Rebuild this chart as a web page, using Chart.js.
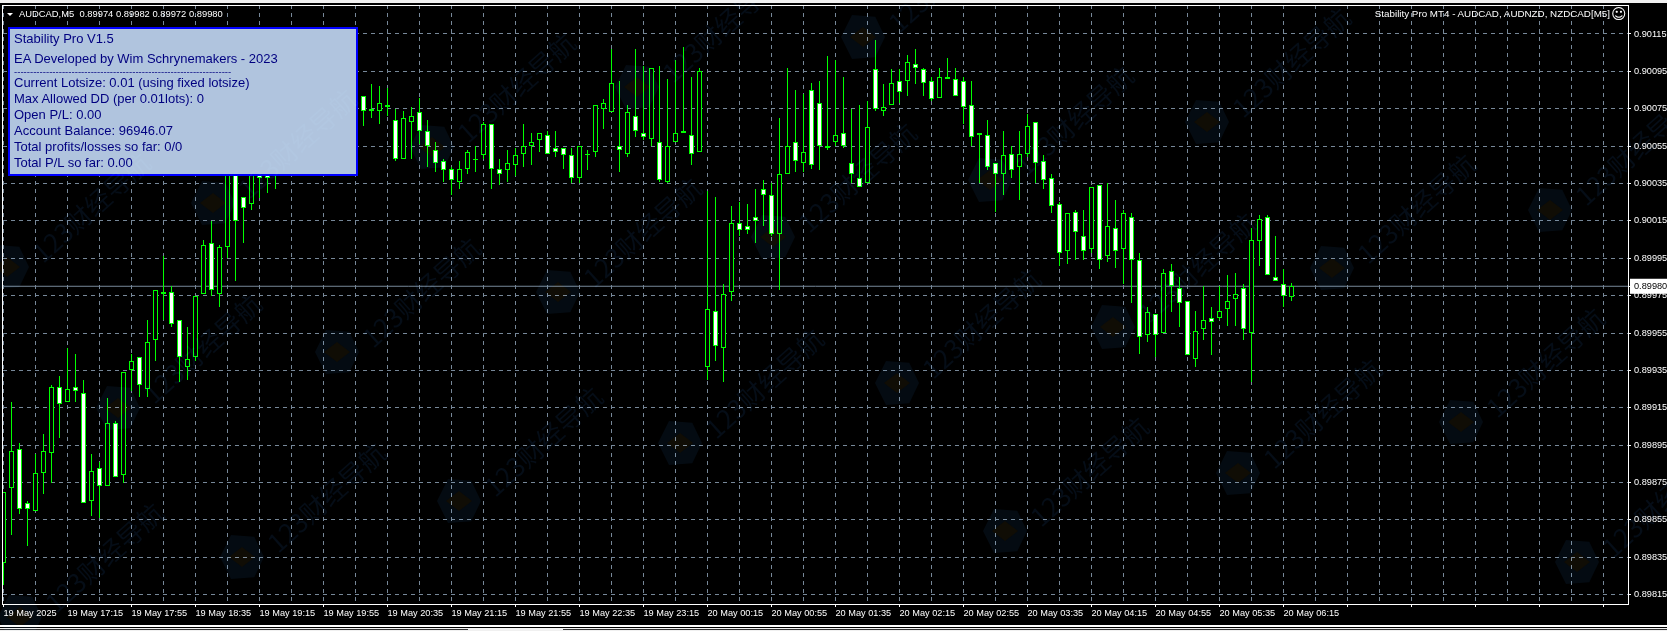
<!DOCTYPE html>
<html>
<head>
<meta charset="utf-8">
<script src="https://cdn.jsdelivr.net/npm/chart.js@4"></script>
<style>
html,body{margin:0;padding:0;background:#000;width:1667px;height:631px;overflow:hidden}
#wrap{position:relative;width:1667px;height:631px;overflow:hidden;background:#000;font-family:"Liberation Sans",Arial,sans-serif}
canvas{position:absolute;left:0;top:0}
.abs{position:absolute;white-space:pre}
#frame{position:absolute;left:2px;top:5px;width:1625px;height:598px;border:1px solid #fff}
#panel{position:absolute;left:8px;top:27px;width:346px;height:145px;border:2px solid #0000ff;background:#b0c4de;color:#000080;font-size:13px}
#panel div{position:absolute;left:4px;line-height:16px;white-space:pre}
#marks{position:absolute;left:0;top:0;width:1667px;height:631px;mix-blend-mode:screen;pointer-events:none;overflow:hidden}
.wm{position:absolute;font:26px "Noto Sans CJK SC";color:#050d17;transform-origin:left center;transform:rotate(-42deg);white-space:nowrap;line-height:30px}
.hex{position:absolute;width:44px;height:44px;background:#040b12;clip-path:polygon(25% 0,78% 4%,100% 50%,78% 96%,25% 100%,0 50%)}
.hex i{position:absolute;left:9px;top:12px;width:26px;height:20px;background:#100d05;clip-path:polygon(50% 0,100% 50%,50% 100%,0 50%)}
</style>
</head>
<body>
<div id="wrap">
<canvas id="c" width="1667" height="631"></canvas>
<div id="frame"></div>
<div class="abs" style="left:0;top:0;width:1667px;height:3px;background:#f0f0f0"></div>
<div class="abs" style="left:0;top:625px;width:1667px;height:2px;background:#fff"></div>
<div class="abs" style="left:0;top:628px;width:1667px;height:3px;background:#f0f0f0"></div>
<div class="abs" style="left:0;top:629px;width:468px;height:1px;background:#333"></div>
<div class="abs" style="left:563px;top:629px;width:1104px;height:1px;background:#333"></div>
<div class="abs" style="left:7px;top:13px;width:0;height:0;border-left:3px solid transparent;border-right:3px solid transparent;border-top:3px solid #fff"></div>
<div class="abs" id="hdr" style="left:19px;top:6px;font-size:9.4px;line-height:15px;color:#fff">AUDCAD,M5  0.89974 0.89982 0.89972 0.89980</div>
<div class="abs" id="rt" style="right:57px;top:6px;font-size:9.8px;line-height:15px;color:#fff">Stability Pro MT4 - AUDCAD, AUDNZD, NZDCAD[M5]</div>
<div class="abs" style="left:1611px;top:5px;font:15px 'DejaVu Sans';line-height:18px;color:#fff">&#9786;</div>
<div id="panel">
<div style="top:2px">Stability Pro V1.5</div>
<div style="top:22px">EA Developed by Wim Schrynemakers - 2023</div>
<div style="top:35px;font-size:9.6px">--------------------------------------------------------------------</div>
<div style="top:46px">Current Lotsize: 0.01 (using fixed lotsize)</div>
<div style="top:62px">Max Allowed DD (per 0.01lots): 0</div>
<div style="top:78px">Open P/L: 0.00</div>
<div style="top:94px">Account Balance: 96946.07</div>
<div style="top:110px">Total profits/losses so far: 0/0</div>
<div style="top:126px">Total P/L so far: 0.00</div>
</div>
<div id="marks"></div>
</div>
<script>
const opens=[0.89832,0.89872,0.89893,0.89864,0.89860,0.89880,0.89891,0.89926,0.89918,0.89926,
0.89923,0.89865,0.89883,0.89873,0.89907,0.89879,0.89935,0.89942,0.89925,0.89951,
0.89977,0.89977,0.89962,0.89937,0.89942,0.89976,0.90003,0.89976,0.90001,0.90045,
0.90028,0.90024,0.90052,0.90046,0.90040,0.90050,0.90055,0.90061,0.90058,0.90066,
0.90063,0.90070,0.90076,0.90072,0.90079,0.90082,0.90075,0.90074,0.90077,0.90069,
0.90048,0.90068,0.90073,0.90063,0.90053,0.90047,0.90043,0.90036,0.90043,0.90048,
0.90050,0.90067,0.90043,0.90042,0.90045,0.90051,0.90055,0.90058,0.90061,0.90054,
0.90054,0.90050,0.90038,0.90051,0.90052,0.90075,0.90073,0.90055,0.90051,0.90071,
0.90062,0.90059,0.90057,0.90036,0.90057,0.90063,0.90061,0.90052,0.89937,0.89967,
0.89947,0.89977,0.90014,0.90012,0.90017,0.90032,0.90029,0.90008,0.90040,0.90057,
0.90046,0.90085,0.90078,0.90054,0.90057,0.90062,0.90046,0.90038,0.90035,0.90096,
0.90074,0.90077,0.90090,0.90090,0.90099,0.90096,0.90090,0.90081,0.90091,0.90091,
0.90090,0.90077,0.90061,0.90061,0.90046,0.90040,0.90051,0.90044,0.90051,0.90068,
0.90047,0.90038,0.90024,0.89999,0.90020,0.90007,0.90000,0.90034,0.89996,0.90011,
0.90000,0.90017,0.89994,0.89954,0.89965,0.89955,0.89988,0.89979,0.89972,0.89941,
0.89957,0.89963,0.89963,0.89968,0.89973,0.89979,0.89955,0.90004,0.90017,0.89985,0.89981,0.89974];
const highs=[0.89870,0.89918,0.89896,0.89865,0.89890,0.89901,0.89927,0.89932,0.89947,0.89944,
0.89930,0.89890,0.89886,0.89920,0.89908,0.89934,0.89944,0.89942,0.89962,0.89978,
0.89996,0.89980,0.89962,0.89958,0.89975,0.90005,0.90015,0.90002,0.90052,0.90050,
0.90028,0.90056,0.90058,0.90052,0.90055,0.90058,0.90064,0.90068,0.90070,0.90075,
0.90074,0.90082,0.90084,0.90083,0.90088,0.90082,0.90088,0.90087,0.90086,0.90075,
0.90074,0.90076,0.90081,0.90069,0.90057,0.90048,0.90044,0.90047,0.90053,0.90055,
0.90068,0.90067,0.90048,0.90053,0.90054,0.90067,0.90062,0.90062,0.90063,0.90063,
0.90054,0.90054,0.90055,0.90053,0.90077,0.90080,0.90107,0.90090,0.90077,0.90107,
0.90098,0.90097,0.90098,0.90091,0.90101,0.90108,0.90092,0.90097,0.90031,0.90028,
0.89981,0.90023,0.90025,0.90024,0.90032,0.90037,0.90035,0.90070,0.90097,0.90085,
0.90083,0.90089,0.90090,0.90103,0.90101,0.90092,0.90075,0.90077,0.90079,0.90112,
0.90088,0.90096,0.90096,0.90104,0.90107,0.90097,0.90092,0.90097,0.90102,0.90097,
0.90092,0.90090,0.90062,0.90069,0.90046,0.90063,0.90055,0.90063,0.90072,0.90068,
0.90050,0.90040,0.90025,0.90019,0.90021,0.90021,0.90033,0.90034,0.90035,0.90026,
0.90021,0.90019,0.89998,0.89969,0.89965,0.89989,0.89992,0.89985,0.89972,0.89967,
0.89980,0.89969,0.89980,0.89986,0.89987,0.89981,0.90011,0.90018,0.90018,0.90007,0.89989,0.89982];
const lows=[0.89820,0.89847,0.89858,0.89841,0.89860,0.89869,0.89875,0.89899,0.89918,0.89918,
0.89864,0.89857,0.89856,0.89873,0.89878,0.89875,0.89924,0.89921,0.89921,0.89940,
0.89962,0.89958,0.89929,0.89930,0.89940,0.89976,0.89975,0.89969,0.89995,0.89983,
0.90003,0.90021,0.90027,0.90030,0.90032,0.90043,0.90048,0.90054,0.90052,0.90060,
0.90056,0.90064,0.90068,0.90066,0.90072,0.90066,0.90070,0.90067,0.90071,0.90047,
0.90048,0.90048,0.90056,0.90044,0.90041,0.90036,0.90029,0.90032,0.90040,0.90041,
0.90048,0.90032,0.90034,0.90036,0.90039,0.90044,0.90045,0.90052,0.90051,0.90049,
0.90043,0.90035,0.90035,0.90042,0.90049,0.90064,0.90073,0.90041,0.90049,0.90060,
0.90058,0.90055,0.90036,0.90035,0.90057,0.90062,0.90045,0.90052,0.89930,0.89940,
0.89929,0.89972,0.90007,0.90008,0.90003,0.90012,0.90007,0.89978,0.90040,0.90041,
0.90041,0.90043,0.90042,0.90053,0.90055,0.90054,0.90035,0.90033,0.90035,0.90074,
0.90071,0.90077,0.90078,0.90082,0.90088,0.90082,0.90079,0.90081,0.90091,0.90082,
0.90067,0.90055,0.90035,0.90042,0.90020,0.90029,0.90038,0.90026,0.90049,0.90035,
0.90032,0.90019,0.89991,0.89992,0.89994,0.89994,0.89998,0.89989,0.89993,0.89990,
0.89981,0.89971,0.89944,0.89950,0.89942,0.89955,0.89966,0.89958,0.89943,0.89937,
0.89951,0.89943,0.89962,0.89959,0.89959,0.89951,0.89929,0.89991,0.89986,0.89983,0.89969,0.89972];
const closes=[0.89870,0.89892,0.89861,0.89861,0.89880,0.89892,0.89926,0.89917,0.89925,0.89924,
0.89864,0.89881,0.89873,0.89907,0.89878,0.89934,0.89940,0.89927,0.89950,0.89978,
0.89976,0.89960,0.89942,0.89941,0.89975,0.90002,0.89978,0.90001,0.90046,0.90015,
0.90022,0.90050,0.90038,0.90038,0.90050,0.90055,0.90061,0.90058,0.90066,0.90063,
0.90070,0.90076,0.90072,0.90079,0.90082,0.90074,0.90074,0.90078,0.90076,0.90048,
0.90070,0.90071,0.90063,0.90055,0.90046,0.90042,0.90037,0.90043,0.90052,0.90048,
0.90067,0.90043,0.90040,0.90046,0.90050,0.90055,0.90057,0.90062,0.90051,0.90052,
0.90050,0.90038,0.90055,0.90050,0.90077,0.90078,0.90089,0.90053,0.90073,0.90063,
0.90060,0.90097,0.90037,0.90055,0.90062,0.90062,0.90051,0.90095,0.89968,0.89948,
0.89976,0.90014,0.90010,0.90010,0.90015,0.90029,0.90008,0.90040,0.90055,0.90047,
0.90052,0.90045,0.90055,0.90055,0.90061,0.90055,0.90040,0.90033,0.90065,0.90075,
0.90076,0.90089,0.90084,0.90100,0.90097,0.90089,0.90080,0.90092,0.90092,0.90082,
0.90076,0.90060,0.90062,0.90044,0.90040,0.90050,0.90042,0.90051,0.90066,0.90046,
0.90037,0.90023,0.89998,0.90019,0.90009,0.89999,0.90033,0.89994,0.90012,0.89999,
0.90019,0.89994,0.89953,0.89966,0.89954,0.89987,0.89980,0.89971,0.89943,0.89956,
0.89962,0.89961,0.89967,0.89972,0.89976,0.89957,0.90005,0.90016,0.89986,0.89983,0.89975,0.89980];
const timeLabels=["19 May 2025","19 May 17:15","19 May 17:55","19 May 18:35","19 May 19:15","19 May 19:55","19 May 20:35","19 May 21:15","19 May 21:55","19 May 22:35","19 May 23:15","20 May 00:15","20 May 00:55","20 May 01:35","20 May 02:15","20 May 02:55","20 May 03:35","20 May 04:15","20 May 04:55","20 May 05:35","20 May 06:15"];
const priceTicks=[0.89815,0.89835,0.89855,0.89875,0.89895,0.89915,0.89935,0.89955,0.89975,0.89995,0.90015,0.90035,0.90055,0.90075,0.90095,0.90115];
const lastPrice=0.89980;
const barsPerGrid=4, barsPerLabel=8, gridCount=51;

const wicks=lows.map((l,i)=>({x:i,y:[l,highs[i]]}));
const bodies=opens.map((o,i)=>({x:i,y:[Math.min(o,closes[i]),Math.max(o,closes[i])]}));
const fills=opens.map((o,i)=>closes[i]>=o?'#000000':'#ffffff');
const GREEN='#00ff00', GRID='#778899';

const snap={id:'snap',afterDatasetsUpdate(chart){
  chart.getSortedVisibleDatasetMetas().forEach(m=>{
    if(m.type!=='bar')return;
    m.data.forEach(el=>{
      let a=Math.round(el.y), b=Math.round(el.base);
      if(b-a<1)b=a+1;
      el.y=a; el.base=b; el.height=b-a;
    });
  });
}};
const noPad=s=>{s.paddingLeft=0;s.paddingRight=0;s.paddingTop=0;s.paddingBottom=0;};

new Chart(document.getElementById('c'),{
  data:{datasets:[
    {type:'line',data:[{x:-1,y:lastPrice},{x:210,y:lastPrice}],borderColor:GRID,borderWidth:1,pointRadius:0,order:3},
    {type:'bar',data:wicks,backgroundColor:GREEN,borderWidth:0,barThickness:1,grouped:false,inflateAmount:0,order:2},
    {type:'bar',data:bodies,backgroundColor:fills,borderColor:GREEN,borderWidth:1,borderSkipped:false,barThickness:5,grouped:false,inflateAmount:0,order:1}
  ]},
  options:{
    responsive:false,animation:false,devicePixelRatio:1,
    layout:{padding:{left:3,top:5,right:0,bottom:0}},
    plugins:{legend:{display:false},tooltip:{enabled:false}},
    events:[],
    scales:{
      x:{type:'linear',offset:false,min:-0.0625,max:203.0625,
        afterFit(s){s.height=27;noPad(s);},
        afterBuildTicks(s){s.ticks=Array.from({length:gridCount},(_,k)=>({value:k*barsPerGrid}));},
        border:{display:false,dash:[4,4]},
        grid:{offset:false,color:GRID,lineWidth:1,drawTicks:true,tickLength:3,
          tickColor:c=>c.tick&&c.tick.value%barsPerLabel===0?'#ffffff':'rgba(0,0,0,0)'},
        ticks:{autoSkip:false,maxRotation:0,minRotation:0,align:'start',padding:1,color:'#ffffff',
          font:{family:'"Liberation Sans"',size:9.2},
          callback:v=>v%barsPerLabel===0?(timeLabels[v/barsPerLabel]||''):''}
      },
      y:{type:'linear',position:'right',min:0.89810,max:0.901305,
        afterFit(s){s.width=39;noPad(s);},
        afterBuildTicks(s){s.ticks=priceTicks.concat([lastPrice]).map(v=>({value:v}));},
        border:{display:false,dash:[4,4]},
        grid:{lineWidth:1,tickLength:3,tickColor:'#ffffff',
          color:c=>c.tick&&c.tick.value===lastPrice?'rgba(0,0,0,0)':GRID},
        ticks:{autoSkip:false,padding:3,crossAlign:'near',
          font:{family:'"Liberation Sans"',size:9.2},
          color:c=>c.tick&&c.tick.value===lastPrice?'#000000':'#ffffff',
          showLabelBackdrop:c=>!!(c.tick&&c.tick.value===lastPrice),
          backdropColor:'#ffffff',backdropPadding:{left:4,right:4,top:2,bottom:2},
          callback:v=>v.toFixed(5)}
      }
    }
  },
  plugins:[snap]
});

// faint site watermark that sits over the screenshot
const logoSpots=[[118,408],[337,352],[558,292],[773,237],[990,180],[1207,122],[213,203],[432,147],[637,87],[863,37],[242,557],[459,501],[680,443],[897,383],[1113,327],[1332,268],[1550,210],[7,267],[20,617],[1005,531],[1238,473],[1461,422],[1577,562]];
const marks=document.getElementById('marks');
logoSpots.forEach(([x,y])=>{
  const h=document.createElement('div');h.className='hex';h.style.left=(x-22)+'px';h.style.top=(y-22)+'px';h.innerHTML='<i></i>';marks.appendChild(h);
  const t=document.createElement('div');t.className='wm';t.textContent='123财经导航';t.style.left=(x+29)+'px';t.style.top=(y-26)+'px';marks.appendChild(t);
});
</script>
</body>
</html>
